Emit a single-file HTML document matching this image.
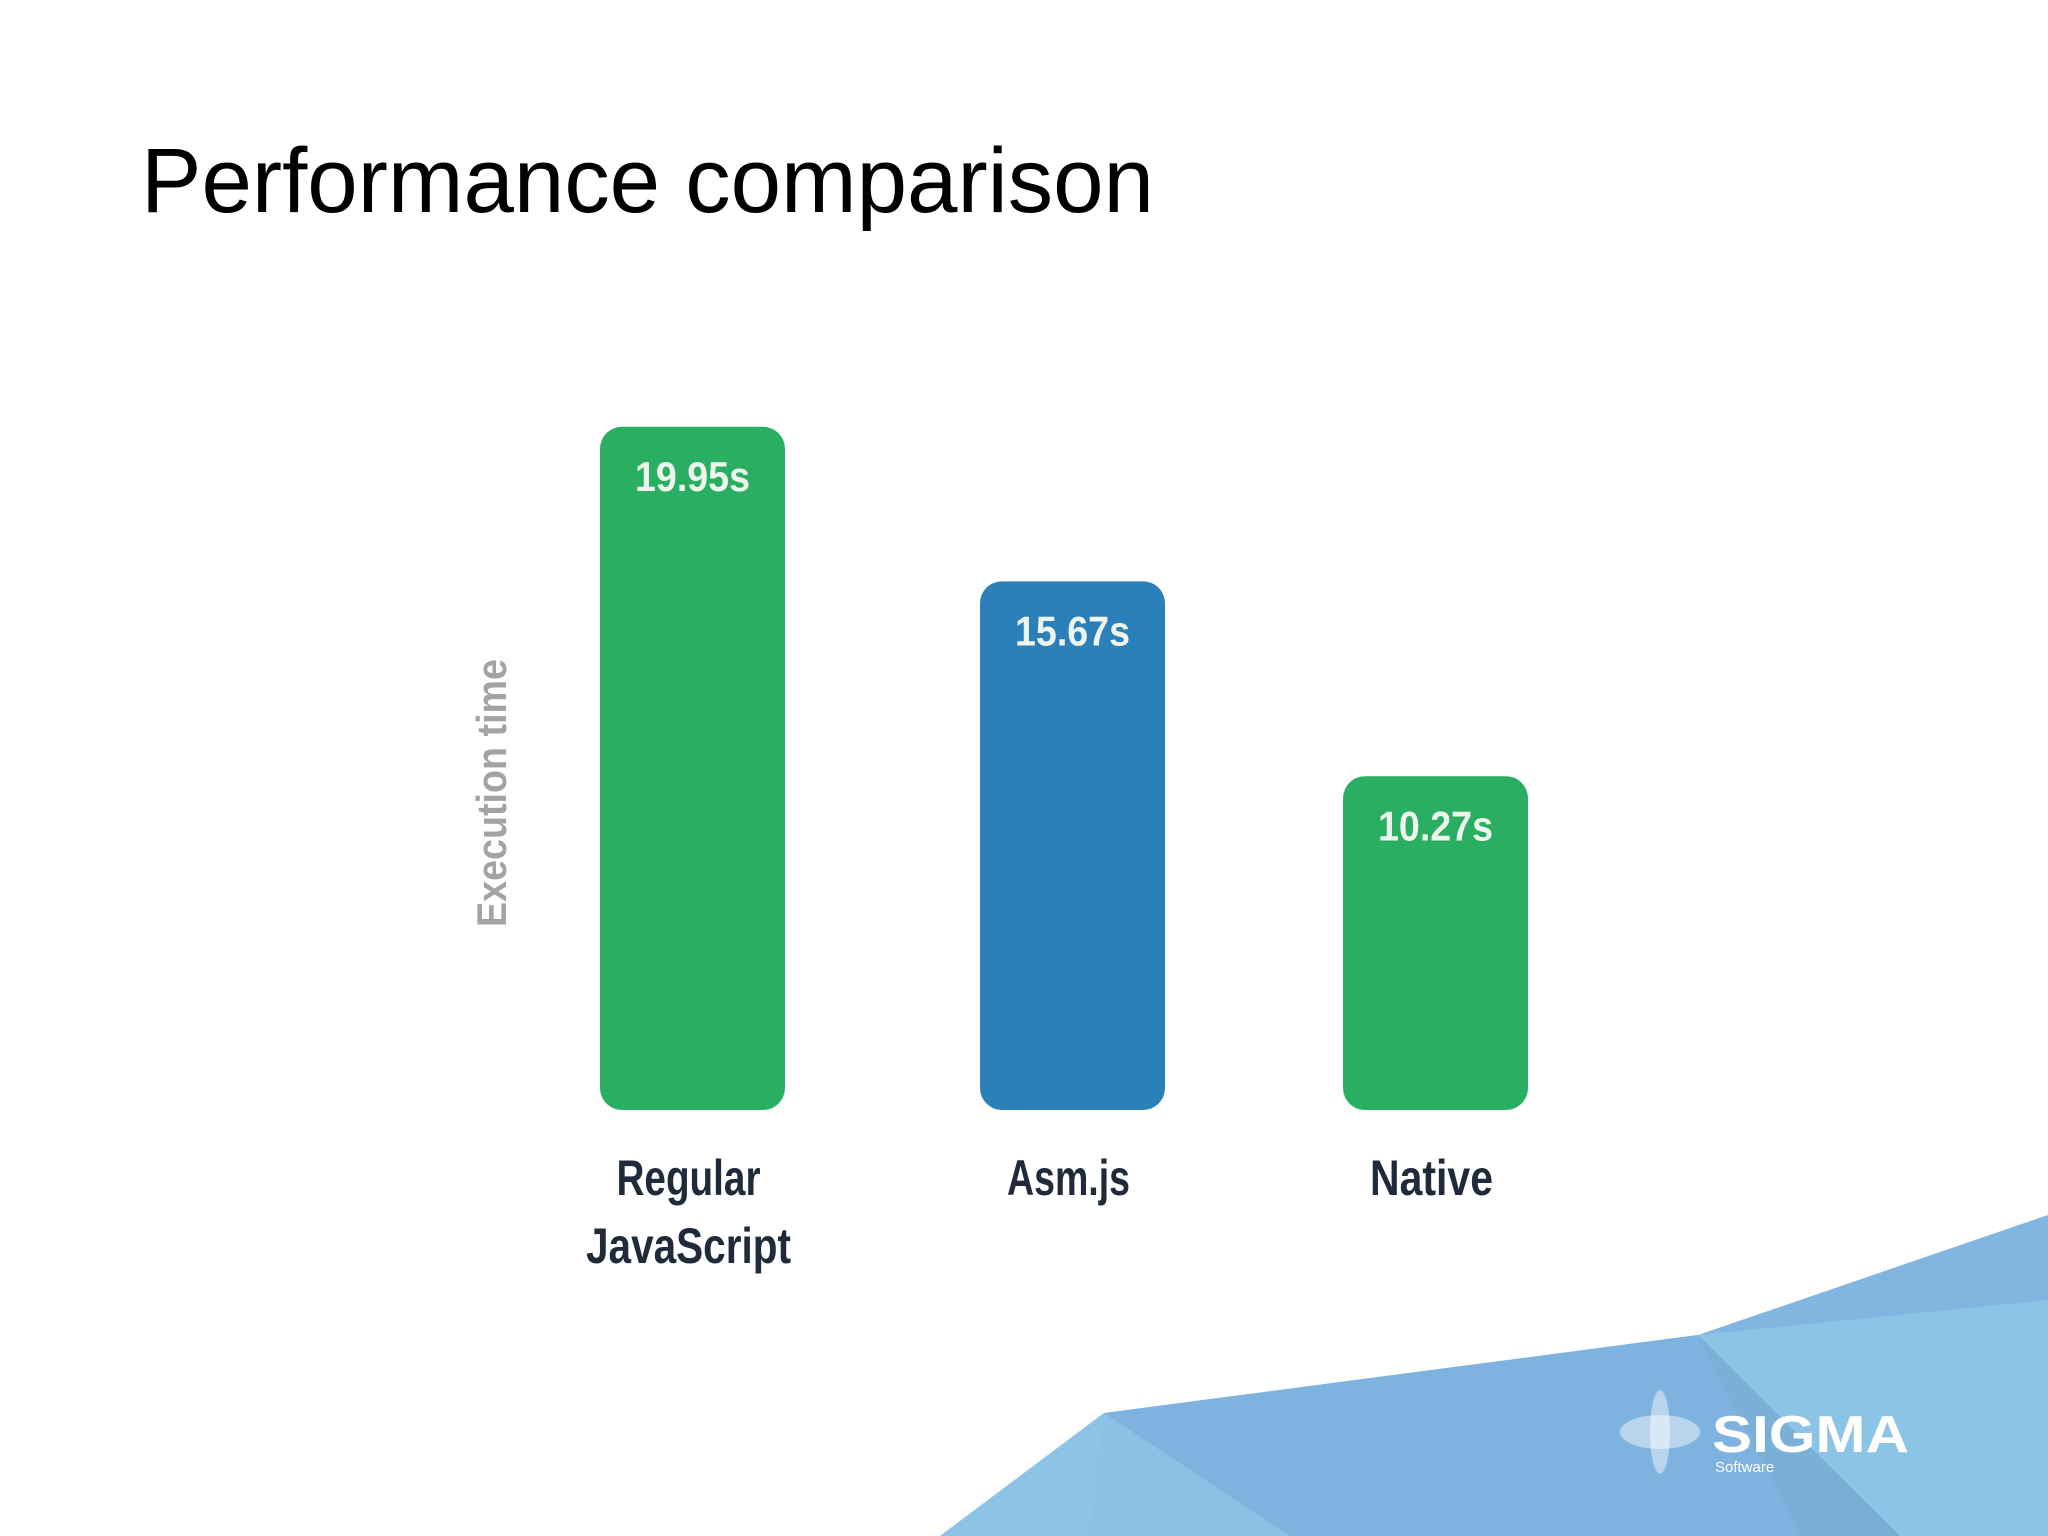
<!DOCTYPE html>
<html><head><meta charset="utf-8"><style>
html,body{margin:0;padding:0;background:#fff}
svg{display:block}
</style></head><body>
<svg width="2048" height="1536" viewBox="0 0 2048 1536" xmlns="http://www.w3.org/2000/svg">
<g>
<polygon points="940,1536 1104,1413 1698,1335 2048,1215 2048,1536" fill="#82b6e1"/>
<polygon points="1104,1413 1698,1335 1800,1536 1200,1536" fill="#7eb3df"/>
<polygon points="1104,1413 1090,1536 940,1536" fill="#8ec3e6"/>
<polygon points="1104,1413 1290,1536 1090,1536" fill="#8bc1e5"/>
<polygon points="1698,1335 2048,1300 2048,1536 1900,1536" fill="#8cc4e6"/>
<polygon points="1698,1335 1800,1536 1900,1536" fill="#7aafd8"/>
</g>
<text x="141" y="212" font-family="Liberation Sans, sans-serif" font-size="92" fill="#000" textLength="1013" lengthAdjust="spacingAndGlyphs">Performance comparison</text>
<text transform="translate(506,793) rotate(-90)" text-anchor="middle" font-family="Liberation Sans, sans-serif" font-weight="bold" font-size="42" fill="#a3a3a3" textLength="268" lengthAdjust="spacingAndGlyphs">Execution time</text>
<g id="bars"></g>
<g>
<ellipse cx="1660" cy="1432" rx="40" ry="17" fill="#fff" opacity="0.45"/>
<ellipse cx="1660" cy="1432" rx="10" ry="42" fill="#fff" opacity="0.45"/>
<text x="1712" y="1452" font-family="Liberation Sans, sans-serif" font-weight="bold" font-size="52" fill="#fff" textLength="197" lengthAdjust="spacingAndGlyphs">SIGMA</text>
<text x="1715" y="1472" font-family="Liberation Sans, sans-serif" font-size="15" fill="#fff">Software</text>
</g>
</svg>
<script>
const categories = [["Regular","JavaScript"],["Asm.js"],["Native"]];
const values = [19.95, 15.67, 10.27];
const valueLabels = ["19.95s","15.67s","10.27s"];
const barColors = ["#2aae62","#2c80b9","#2aae62"];
const NS="http://www.w3.org/2000/svg";
const baseY=1110, k=36.1, off=-37, barW=185;
const xLeft=[600,980,1343];
function y(v){return baseY - (off + v*k);}
const g=document.getElementById('bars');
values.forEach((v,i)=>{
  const x=xLeft[i], top=y(v);
  const r=document.createElementNS(NS,'rect');
  r.setAttribute('x',x);r.setAttribute('y',top);r.setAttribute('width',barW);r.setAttribute('height',baseY-top);
  r.setAttribute('rx',22);r.setAttribute('fill',barColors[i]);
  
  
  g.appendChild(r);
  const t=document.createElementNS(NS,'text');
  t.setAttribute('x',x+barW/2);t.setAttribute('y',top+64);t.setAttribute('text-anchor','middle');
  t.setAttribute('font-family','Liberation Sans, sans-serif');t.setAttribute('font-weight','bold');
  t.setAttribute('font-size','42');t.setAttribute('fill','#eef5ee');
  t.setAttribute('textLength','115');t.setAttribute('lengthAdjust','spacingAndGlyphs');
  t.textContent=valueLabels[i];
  
  
  g.appendChild(t);
  categories[i].forEach((line,j)=>{
    const c=document.createElementNS(NS,'text');
    c.setAttribute('x',x+barW/2-4);c.setAttribute('y',1195+j*68);c.setAttribute('text-anchor','middle');
    c.setAttribute('font-family','Liberation Sans, sans-serif');c.setAttribute('font-weight','bold');
    c.setAttribute('font-size','50');c.setAttribute('fill','#1f2b3b');
    c.setAttribute('textLength', String(Math.round(line.length*20.5)));c.setAttribute('lengthAdjust','spacingAndGlyphs');
    c.textContent=line;
    
    
    g.appendChild(c);
  });
});
</script>
</body></html>
